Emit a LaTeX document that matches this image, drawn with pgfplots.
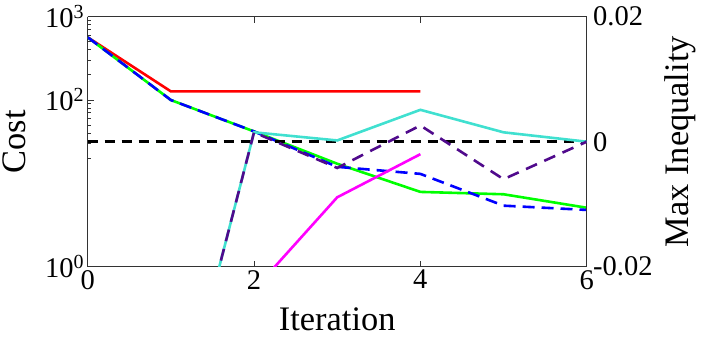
\documentclass[border=0pt]{standalone}
\usepackage{fontspec}
\setmainfont{Liberation Serif}
\usepackage{pgfplots}
\pgfplotsset{compat=1.18}

\definecolor{cturq}{RGB}{64,224,208}
\definecolor{cindigo}{RGB}{80,10,140}
\definecolor{cmag}{RGB}{255,0,255}

\begin{document}
\begin{tikzpicture}
\useasboundingbox (-87.7bp,-77.3bp) rectangle (614.3bp,266.7bp);

\pgfplotsset{
  common/.style={
    scale only axis,
    width=499bp, height=250bp,
    xmin=0, xmax=6,
    tick align=inside,
    axis line style={line width=1bp, black!80},
    every tick/.style={line width=1bp, black!80},
    major tick length=6bp,
    minor tick length=3.5bp,
    tick label style={font=\fontsize{28.6}{30}\selectfont},
    label style={font=\fontsize{34.5}{36}\selectfont},
    /pgf/number format/assume math mode=true,
  },
}

% === left axis: Cost (log) ===
\begin{axis}[
    common,
    ymode=log, ymin=1, ymax=1000,
    axis y line*=left,
    xtick={0,2,4,6}, xticklabels={0,2,4,6},
    ytick={1,100,1000},
    yticklabels={10\textsuperscript{0},10\textsuperscript{2},10\textsuperscript{3}},
    minor ytick={20,30,40,50,60,70,80,90,200,300,400,500,600,700,800,900},
    xlabel={Iteration},
    ylabel={Cost},
    xlabel style={at={(axis description cs:0.5,-0.212)}, anchor=center},
    ylabel style={at={(axis description cs:-0.148,0.5)}, anchor=center},
]
% red
\addplot[red, line width=2.6bp] coordinates
    {(0,566) (1,127) (4,127)};
% green
\addplot[green, line width=2.6bp] coordinates
    {(0,566) (1,100) (2,42) (3,17.2) (4,7.9) (5,7.4) (6,5.1)};
% blue dashed
\addplot[blue, line width=2.6bp, dash pattern=on 12bp off 7bp] coordinates
    {(0,566) (1,100) (2,42) (3,15.8) (4,13) (5,5.4) (6,4.8)};
\end{axis}

% === right axis: Max Inequality ===
\begin{axis}[
    common,
    axis x line=none,
    axis y line*=right,
    ymin=-0.02, ymax=0.02,
    ytick={-0.02,0,0.02}, yticklabels={-0.02,0,0.02},
    scaled y ticks=false,
    yticklabel style={xshift=3bp},
    major tick length=0bp,
    ylabel={Max Inequality},
    ylabel style={at={(axis description cs:1.188,0.5)}, anchor=center},
]
% zero reference
\addplot[black, line width=2.6bp, dash pattern=on 10bp off 7bp] coordinates
    {(0,0) (6,0)};
% turquoise
\addplot[cturq, line width=2.6bp] coordinates
    {(1,-0.05) (2,0.0015) (3,0.0002) (4,0.0051) (5,0.0015) (6,0)};
% indigo dashed
\addplot[cindigo, line width=2.6bp, dash pattern=on 12bp off 8bp] coordinates
    {(1,-0.05) (2,0.0015) (3,-0.0042) (4,0.0026) (5,-0.006) (6,0)};
% magenta
\addplot[cmag, line width=2.6bp] coordinates
    {(2,-0.0237) (3,-0.0089) (4,-0.002)};
\end{axis}

\end{tikzpicture}
\end{document}
